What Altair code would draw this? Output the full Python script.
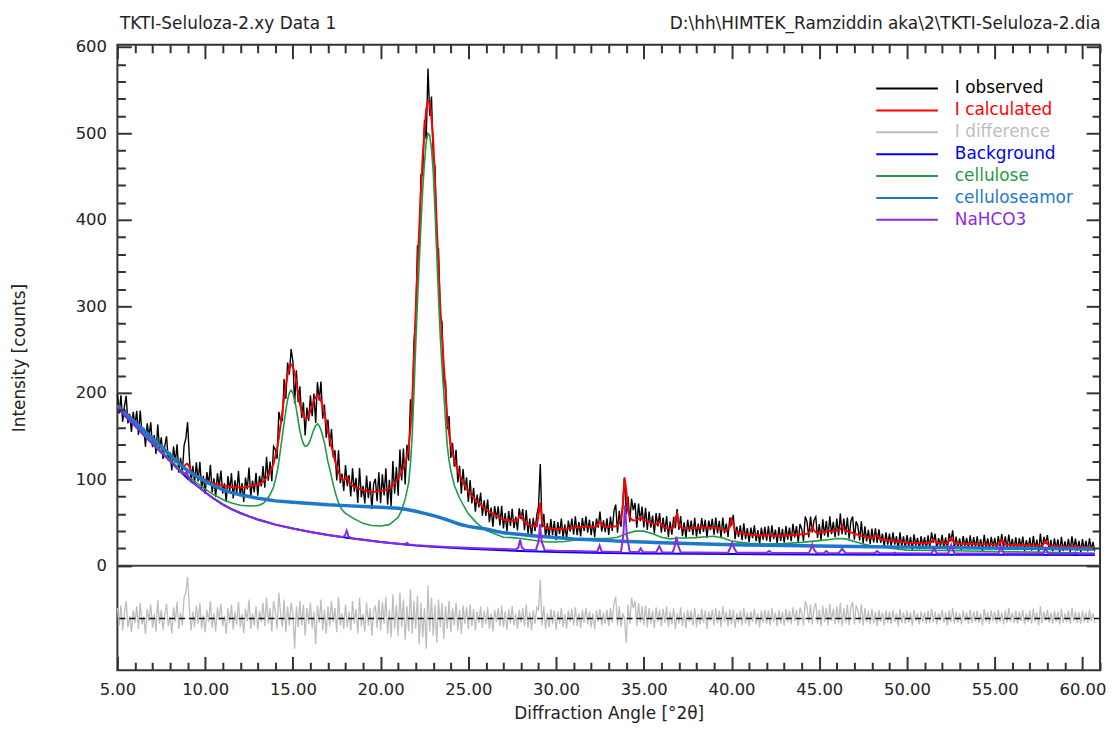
import altair as alt
import pandas as pd

# ---------------- data ----------------
ANGLE_START = 5.0   # first sampled angle of the scan (deg 2theta)
ANGLE_STEP = 0.1    # scan step

# I calculated, one row per degree (x.0 ... x.9)
calc_counts = [
    186, 184.1, 182.2, 180.3, 178.4, 176.5, 174.6, 172.7, 170.8, 168.9,
    167, 165.1, 163.2, 161.3, 159.4, 157.5, 155.6, 153.7, 151.8, 149.9,
    148, 146.1, 144.2, 142.3, 140.4, 138.5, 136.6, 134.7, 132.8, 130.9,
    129, 127.1, 125.2, 123.3, 121.4, 119.5, 117.8, 116.1, 114.9, 117.2,
    118, 114, 110, 107.4, 105.8, 104.5, 103.4, 102.3, 101.1, 100,
    99, 98.2, 97.4, 96.6, 95.8, 95, 94.5, 94, 93.5, 93,
    92.5, 92.2, 91.9, 91.6, 91.3, 91, 90.9, 90.8, 90.7, 90.6,
    90.5, 90.6, 90.7, 90.9, 91.2, 91.5, 91.9, 92.4, 92.9, 93.4,
    94, 94.8, 95.8, 97.2, 99.2, 102, 104.3, 108.5, 112.8, 118,
    126.5, 135.6, 148, 163, 178, 194, 209, 221, 229, 232.5,
    230.5, 222.5, 212, 199, 187.5, 179, 173, 170.5, 171, 173.5,
    179, 185, 191, 195, 197.5, 196, 191, 184, 176.5, 166,
    155, 147, 138, 129.5, 121.5, 114.5, 108.5, 103.5, 100.5, 98.5,
    100.5, 102.1, 96.9, 94.1, 92.7, 91.6, 90.6, 89.7, 88.9, 88.1,
    87.4, 86.9, 86.4, 86, 85.7, 85.5, 85.4, 85.5, 85.7, 86,
    86.3, 86.7, 87.2, 87.8, 88.5, 89.5, 91, 93, 95.3, 98,
    101, 104.5, 108.5, 113.5, 119, 126, 136.5, 158.5, 190, 240,
    294.5, 344.5, 389.5, 434, 473.5, 503.5, 528, 537, 535, 518.5,
    491, 445.5, 395, 344.5, 299, 263.7, 233, 200.5, 170, 153,
    140.7, 130, 122.5, 116, 110.3, 105.7, 101.3, 96.9, 93, 89.2,
    85.8, 83.2, 81, 79, 76.4, 74.3, 72.5, 70.7, 68.9, 66.5,
    64.7, 63.5, 62.3, 61.2, 60.1, 59, 57.8, 56.6, 55.5, 54.3,
    53.1, 52.8, 52.5, 52.2, 51.9, 51.7, 51.5, 51.8, 52.9, 56.3,
    58.9, 53.4, 50.1, 48.4, 47.9, 47.4, 46.9, 46.4, 46, 45.5,
    59, 72.6, 52.2, 45.9, 44, 43.2, 43, 42.8, 42.6, 42.5,
    42.5, 42.5, 42.5, 42.5, 42.6, 42.7, 42.9, 43.1, 43.3, 43.6,
    43.9, 44.1, 44.3, 44.6, 44.8, 45, 45.1, 45.1, 45.2, 45.2,
    45.2, 45.2, 45.1, 45.6, 48, 51.5, 47.5, 45.5, 44.8, 44.7,
    44.7, 44.9, 45.1, 45.4, 45.7, 46.3, 49.4, 55, 67, 102,
    87.5, 64, 56.4, 53.5, 52.4, 52.5, 53, 54, 56.4, 54.4,
    52.3, 52, 51.4, 50.7, 49.9, 49, 48.2, 47.8, 49.5, 51,
    47.2, 44.8, 44, 43.5, 43.2, 43, 42.9, 44.5, 55.5, 59.5,
    47.5, 44.5, 43.3, 43.2, 43.2, 43.2, 43.2, 43.3, 43.4, 43.5,
    43.7, 43.8, 43.9, 44, 44.1, 44.2, 44.2, 44.2, 44.2, 44.1,
    44, 43.8, 43.5, 43, 42.4, 41.7, 41.3, 40.8, 42.3, 44.8,
    53.3, 48.8, 41.7, 39.1, 38.2, 37.8, 37.4, 37, 36.7, 36.4,
    36.2, 36, 35.8, 35.6, 35.4, 35.3, 35.2, 35.1, 35, 35,
    34.9, 36.8, 35.5, 34.8, 34.7, 34.7, 34.7, 34.7, 34.7, 34.7,
    34.7, 34.8, 35, 35.2, 35.3, 35.5, 35.7, 35.8, 36, 36.2,
    36.4, 36.6, 36.8, 37, 37.6, 40.8, 45.5, 40.7, 38.7, 38.1,
    38.2, 38.4, 38.6, 38.8, 39.5, 41.1, 40.2, 39.6, 39.8, 40,
    40.6, 40.7, 42.4, 45.4, 42.5, 40.5, 39.8, 39.2, 38.5, 37.8,
    37, 36.4, 35.8, 35.2, 34.5, 33.9, 33.5, 33, 32.6, 32.2,
    31.8, 33, 35.2, 35.4, 32.1, 30.5, 30.2, 29.9, 29.6, 29.4,
    29.2, 28.9, 28.6, 28.4, 28.1, 27.9, 27.6, 27.3, 27, 26.8,
    26.5, 26.5, 26.4, 26.4, 26.3, 26.3, 26.2, 26.2, 26.1, 26.1,
    26.1, 26, 26, 26.3, 27.5, 30.5, 29, 26.8, 26, 25.9,
    25.7, 25.7, 25.7, 26.5, 28.5, 32.3, 28.8, 26.3, 25.6, 25.5,
    25.5, 25.4, 25.3, 25.3, 25.2, 25.2, 25.1, 25, 25, 24.9,
    24.9, 24.8, 24.8, 24.7, 24.7, 24.6, 24.5, 24.5, 24.4, 24.4,
    24.2, 24.2, 24.4, 26.2, 29.6, 27.6, 25, 24.3, 24.1, 24.1,
    24, 24, 23.9, 23.9, 23.8, 23.8, 23.7, 23.7, 23.6, 23.6,
    23.5, 23.5, 23.4, 23.4, 23.3, 23.3, 23.2, 23.7, 25.5, 28.6,
    25.3, 23.4, 22.8, 22.7, 22.6, 22.5, 22.4, 22.4, 22.3, 22.2,
    22.2, 22.1, 22, 22, 21.9, 22.5, 23.4, 22.4, 21.8, 21.8,
    21.7, 21.7, 21.6, 21.6, 21.6, 21.5, 21.5, 21.5,
]

# I difference (observed - calculated), read around its own zero line
diff_counts = [
    12, -8, 15, -14, 6, 20, -10, 3, -16, 9,
    -5, 14, -12, 18, -7, 2, -18, 11, -3, 16,
    -11, 5, -15, 21, -6, 10, -13, 4, 17, -9,
    2, -17, 13, -4, 19, -12, 7, -8, 24, 30,
    48, 12, -14, 8, -10, 15, -6, 18, -12, 4,
    -16, 10, -4, 20, -11, 6, -15, 13, -2, 17,
    -9, 3, -18, 12, -5, 16, -13, 8, -7, 19,
    -10, 5, -17, 11, -3, 22, -12, 6, -8, 14,
    -13, 9, -4, 18, -9, 24, -6, 12, -15, 20,
    8, -12, 30, 5, -10, 22, -16, 14, -8, 18,
    6, -35, 14, -10, 20, -8, 16, -20, 12, -6,
    18, -12, 8, -30, 15, -5, 22, -14, 10, -18,
    14, -9, 20, -4, 12, -16, 25, -8, 6, -12,
    16, -10, 8, -14, 20, -6, 11, -17, 24, -9,
    5, -15, 18, -8, 12, -20, 9, 15, -11, 22,
    -14, 19, -6, 25, -18, 10, -22, 28, -12, 16,
    -20, 30, -10, 22, -25, 14, -15, 34, -18, 20,
    -12, 26, -30, 18, -22, 12, -35, 38, -15, 24,
    -20, 16, -28, 22, -10, 18, -24, 14, -12, 20,
    -16, 12, -8, 18, -14, 10, -18, 15, -6, 13,
    -12, 16, -9, 11, -14, 8, -5, 14, -11, 9,
    -7, 13, -12, 6, -15, 10, -4, 12, -9, 15,
    -10, 8, -13, 11, -6, 14, -8, 5, -12, 10,
    -5, 12, -9, 16, -11, 7, -14, 9, -6, 13,
    10, 45, -8, 14, -12, 6, -10, 11, -7, 9,
    -13, 8, -6, 12, -10, 5, -12, 9, -4, 11,
    -8, 13, -9, 6, -11, 10, -5, 12, -7, 8,
    -10, 6, -12, 9, -4, 11, -8, 7, -6, 10,
    -9, 12, -5, 18, 25, -8, 14, -10, 6, 0,
    -28, 16, -6, 24, 12, 20, -9, 18, -5, 14,
    -8, 15, -10, 12, -6, 9, -11, 13, -4, 10,
    -9, 11, -5, 14, -10, 8, -7, 12, -12, 6,
    -6, 13, -9, 7, -11, 10, -4, 9, -8, 12,
    -10, 5, -7, 11, -5, 9, -12, 8, -3, 10,
    -8, 12, -6, 9, -10, 14, -4, 8, -9, 11,
    -7, 10, -11, 6, -5, 9, -8, 12, -6, 7,
    -9, 8, -4, 11, -7, 6, -10, 9, -5, 10,
    -6, 9, -8, 12, -4, 7, -9, 10, -6, 8,
    -8, 11, -5, 9, -7, 13, -3, 10, -9, 12,
    6, -8, 20, 14, -5, 16, -7, 12, 18, -6,
    10, -9, 15, -4, 12, -8, 17, -3, 11, -7,
    14, -6, 18, -9, 12, -5, 16, -8, 13, 19,
    -7, 15, 10, -6, 17, -8, 12, -5, 9, -7,
    11, -6, 8, -9, 10, -4, 7, -8, 9, -5,
    8, -7, 10, -4, 6, -9, 11, -5, 7, -6,
    9, -5, 7, -8, 10, -3, 6, -7, 8, -4,
    7, -6, 9, -5, 11, -4, 8, -7, 6, -3,
    10, -5, 7, -8, 9, -4, 12, -6, 8, -5,
    6, -7, 9, -3, 7, -6, 10, -5, 8, -4,
    9, -5, 6, -8, 11, -4, 7, -6, 9, -3,
    8, -6, 10, -4, 7, -7, 9, -5, 12, -4,
    7, -5, 9, -6, 8, -3, 10, -7, 6, -4,
    9, -6, 11, -4, 7, -8, 14, -5, 8, -3,
    10, -5, 7, -6, 9, -4, 8, -7, 11, -5,
    6, -4, 9, -6, 12, -3, 8, -5, 7, -6,
    9, -4, 7, -5, 10, -3, 6, -5,
]
DIFF_OFFSET = -61  # where the difference curve's zero sits

bg_angle = [5.0, 5.5, 6.0, 6.5, 7.0, 7.5, 8.0, 8.5, 9.0, 9.5, 10.0, 10.5, 11.0, 11.5,
            12.0, 12.5, 13.0, 13.5, 14.0, 15.0, 16.0, 17.0, 18.0, 19.0, 20.0, 21.0,
            22.0, 23.0, 24.0, 25.0, 26.0, 27.0, 28.0, 29.0, 30.0, 32.0, 35.0, 40.0,
            45.0, 50.0, 55.0, 60.7]
bg_counts = [183, 172, 162, 151, 141, 131, 121, 110.5, 101, 93, 85, 77.5, 71, 65.5,
             61, 57, 53.5, 50.5, 47.5, 43, 39, 35.5, 32.5, 30, 27.5, 25.5,
             23.5, 22, 20.8, 19.7, 18.8, 17.9, 17.1, 16.5, 15.8, 15, 14.2, 13.5,
             13, 12.8, 12.6, 12.4]

cel_angle = [5.0, 5.5, 6.0, 6.5, 7.0, 7.5, 8.0, 8.5, 9.0, 9.5, 10.0, 10.5, 11.0, 11.5,
             12.0, 12.5, 13.0, 13.3, 13.5, 13.7, 13.9,
             14.0, 14.1, 14.2, 14.3, 14.4, 14.5, 14.6, 14.7, 14.8, 14.9,
             15.0, 15.1, 15.2, 15.3, 15.4, 15.5, 15.6, 15.7, 15.8, 15.9,
             16.0, 16.1, 16.2, 16.3, 16.4, 16.5, 16.6, 16.7, 16.8, 16.9,
             17.0, 17.1, 17.2, 17.3, 17.4, 17.5, 17.6, 17.7, 17.8, 17.9, 18.0,
             18.5, 19.0, 19.5, 20.0, 20.5, 21.0, 21.2, 21.4, 21.6,
             21.7, 21.8, 21.9, 22.0, 22.1, 22.2, 22.3, 22.4, 22.5, 22.6, 22.7, 22.8, 22.9,
             23.0, 23.1, 23.2, 23.3, 23.4, 23.5, 23.6, 23.7, 23.8, 23.9, 24.0,
             24.2, 24.5, 25.0, 25.5, 26.0, 26.5, 27.0, 27.5, 28.0, 28.5, 29.0, 29.5,
             30.0, 30.5, 31.0, 31.5, 32.0, 32.5, 33.0, 33.5, 34.0, 34.5,
             35.0, 35.5, 36.0, 36.5, 37.0, 37.5, 38.0, 38.5, 39.0, 39.5, 40.0,
             40.5, 41.0, 42.0, 43.0, 44.0, 45.0, 45.5, 46.0, 46.5, 47.0, 47.5, 48.0,
             48.75, 50.0, 52.0, 55.0, 58.0, 60.7]
cel_counts = [184, 174, 164, 153, 143, 133, 123, 113, 104, 96, 88.5, 82, 76.5, 72.5,
              70, 69, 69.5, 72, 76, 82, 91,
              99, 108, 120, 135, 150, 165, 180, 192, 200, 203,
              200, 192, 181, 168, 156, 147, 141, 138, 138.5, 141,
              146, 152, 158, 162, 164, 162, 157, 150, 142, 131,
              120, 112, 103, 94, 86, 79, 73, 68, 65, 62.5, 60.5,
              54.2, 49, 46.5, 46, 47.5, 56, 64, 77, 96,
              118, 150, 200, 255, 305, 350, 395, 435, 466, 490, 500, 498, 482,
              455, 410, 360, 310, 265, 230, 200, 168, 138, 122, 110,
              93, 78, 60, 49, 41, 37, 33, 32.5, 31.5, 30, 28.5, 27.5,
              27.5, 28, 29.5, 31, 31.5, 31.5, 31.5, 33, 37, 40,
              40, 37, 33, 31, 32, 32, 32.5, 33.5, 34, 32, 28.5,
              27, 26, 25, 25.5, 27, 29, 30, 31.5, 31, 28, 25, 23,
              21, 18, 17.5, 16.5, 15.5, 14.5]

amor_angle = [5.0, 5.5, 6.0, 6.5, 7.0, 7.5, 8.0, 8.5, 9.0, 9.5, 10.0, 10.5, 11.0, 11.5,
              12.0, 12.5, 13.0, 13.5, 14.0, 15.0, 16.0, 17.0, 18.0, 19.0, 20.0, 21.0,
              21.5, 22.0, 22.5, 23.0, 23.5, 24.0, 24.5, 25.0, 25.5, 26.0,
              27.0, 28.0, 29.0, 30.0, 31.0, 32.0, 33.0, 34.0, 35.0, 36.0,
              38.0, 40.0, 42.0, 44.0, 46.0, 48.0, 50.0, 52.0, 54.0, 56.0, 58.0, 60.7]
amor_counts = [185, 175.5, 166, 156.5, 147, 137.5, 128, 118.5, 110, 103.5, 97.5, 92.5, 88, 84.5,
               82, 80, 78, 76.5, 75, 73.5, 72, 70.5, 69.5, 68.5, 67.5, 66.5,
               65, 63, 60.5, 58, 55, 51.5, 48, 45.5, 44, 42.5,
               38, 36, 34, 32.5, 31, 30, 29, 28, 27.3, 26.5,
               25.3, 24.3, 23.6, 23, 22.5, 22, 21.5, 21, 20.6, 20.2, 19.8, 19.3]

nah_angle = [5.0, 5.5, 6.0, 6.5, 7.0, 7.5, 8.0, 8.5, 8.7, 8.85, 8.95, 9.05, 9.2, 9.5,
             10.0, 10.5, 11.0, 11.5, 12.0, 12.5, 13.0, 13.5, 14.0, 15.0, 16.0, 17.0,
             17.85, 17.98, 18.07, 18.17, 18.35, 19.0, 20.0, 21.0, 21.4, 21.5, 21.6,
             22.0, 23.0, 24.0, 25.0, 26.0, 27.0, 27.7, 27.85, 27.95, 28.05, 28.2,
             28.85, 29.0, 29.08, 29.18, 29.35, 30.0, 31.0, 32.0, 32.35, 32.48, 32.6,
             33.0, 33.7, 33.83, 33.93, 34.03, 34.2, 34.7, 34.82, 34.95, 35.7, 35.88,
             36.05, 36.65, 36.78, 36.86, 36.95, 37.1, 38.0, 39.8, 39.93, 40.03, 40.13,
             40.3, 42.0, 42.14, 42.3, 44.4, 44.5, 44.6, 44.7, 44.85, 45.25, 45.4,
             45.55, 46.1, 46.3, 46.5, 48.15, 48.3, 48.45, 49.2, 49.3, 49.4, 51.4,
             51.54, 51.7, 52.35, 52.52, 52.7, 55.2, 55.36, 55.52, 57.75, 57.9, 58.05,
             59.5, 59.6, 59.7, 60.7]
nah_counts = [183, 172, 162, 151, 141, 131, 121, 110.5, 106.7, 106.5, 109, 102.5, 97.4, 93,
              85, 77.5, 71, 65.5, 61, 57, 53.5, 50.5, 47.5, 43, 39, 35.5,
              33, 35.5, 40.5, 34, 31.6, 30, 27.5, 25.5, 24.7, 26.5, 24.5,
              23.8, 22.5, 21.5, 20.7, 20, 19.2, 18.7, 21, 30, 21, 18.5,
              18, 28, 48, 28, 18, 17.3, 16.9, 16.5, 16.4, 23.5, 16.3,
              16.2, 16, 35, 70, 35, 15.9, 15.8, 20, 15.8, 15.6, 22.5,
              15.5, 15.4, 24, 33.5, 24, 15.4, 15.3, 15, 21, 26.5, 21,
              15, 14.9, 17, 14.9, 14.6, 18.5, 24.5, 18.5, 14.6, 14.5, 17,
              14.5, 14.5, 19.5, 14.5, 14.4, 17, 14.4, 14.3, 15.2, 14.3, 14.2,
              20, 14.2, 14.2, 24, 14.2, 14.1, 22, 14.1, 14, 20, 14,
              13.9, 15.5, 13.9, 13.9]

series_names = ["I observed", "I calculated", "I difference", "Background",
                "cellulose", "celluloseamor", "NaHCO3"]
series_colors = ["#000000", "#ff0000", "#bdbdbd", "#0000ff",
                 "#1f9a45", "#1c78cc", "#8a2be2"]

x_tick_values = list(range(5, 62))
y_tick_values = list(range(0, 601, 20))
title_left = "TKTI-Seluloza-2.xy Data 1"
title_right = "D:\\hh\\HIMTEK_Ramziddin aka\\2\\TKTI-Seluloza-2.dia"

# ---------------- tables ----------------
angles = [round(ANGLE_START + ANGLE_STEP * i, 1) for i in range(len(calc_counts))]
obs_df = pd.DataFrame({"angle": angles,
                       "counts": [c + d for c, d in zip(calc_counts, diff_counts)],
                       "series": "I observed"})
calc_df = pd.DataFrame({"angle": angles, "counts": calc_counts, "series": "I calculated"})
diff_df = pd.DataFrame({"angle": angles,
                        "counts": [d + DIFF_OFFSET for d in diff_counts],
                        "series": "I difference"})
bg_df = pd.DataFrame({"angle": bg_angle, "counts": bg_counts, "series": "Background"})
cel_df = pd.DataFrame({"angle": cel_angle, "counts": cel_counts, "series": "cellulose"})
amor_df = pd.DataFrame({"angle": amor_angle, "counts": amor_counts, "series": "celluloseamor"})
nah_df = pd.DataFrame({"angle": nah_angle, "counts": nah_counts, "series": "NaHCO3"})

FONT = "DejaVu Sans"
TXT = "#222222"
TICK = "#333333"

xscale = alt.Scale(domain=[5, 61], nice=False, zero=False)
yscale = alt.Scale(domain=[-121, 602.5], nice=False, zero=False)
cscale = alt.Scale(domain=series_names, range=series_colors)

# major ticks solid (14 px), minor ticks only their outer 8 px drawn
x_dash = {"expr": "datum.value % 5 === 0 ? [14, 0] : [0, 6, 8, 100]"}
y_dash = {"expr": "datum.value % 100 === 0 ? [14, 0] : [0, 6, 8, 100]"}

common_axis = dict(offset=-14, tickSize=14, tickWidth=2, tickColor=TICK, domain=False,
                   grid=False, labelOverlap=False, labelFlush=False, zindex=1,
                   titleFont=FONT, titleFontSize=17, titleFontWeight="normal",
                   titleColor=TXT, labelFont=FONT, labelColor=TXT)

x_bottom = alt.Axis(orient="bottom", values=x_tick_values, tickDash=x_dash,
                    labelExpr="datum.value % 5 === 0 ? format(datum.value, '.2f') : ''",
                    labelFontSize=16.5, labelPadding=11,
                    title="Diffraction Angle [°2θ]", titleY=57, titleBaseline="middle",
                    **common_axis)
x_top = alt.Axis(orient="top", values=x_tick_values, tickDash=x_dash, labels=False,
                 title=title_left, titleX=2, titleY=-30, titleAlign="left",
                 titleAnchor="start", titleBaseline="alphabetic", titleAngle=0,
                 **common_axis)
y_left = alt.Axis(orient="left", values=y_tick_values, tickDash=y_dash,
                  labelExpr="datum.value % 100 === 0 ? format(datum.value, 'd') : ''",
                  labelFontSize=16.5, labelPadding=11,
                  title="Intensity [counts]", titleX=-112, titleBaseline="middle",
                  **common_axis)
y_right = alt.Axis(orient="right", values=y_tick_values, tickDash=y_dash, labels=False,
                   title=title_right, titleAngle=0, titleX=14, titleY=-16,
                   titleAlign="right", titleBaseline="alphabetic",
                   **common_axis)

legend = alt.Legend(title=None, orient="none", legendX=762, legendY=33,
                    direction="vertical", symbolType="stroke", symbolSize=3844,
                    symbolStrokeWidth=2, clipHeight=22, rowPadding=0, labelOffset=16,
                    labelFont=FONT, labelFontSize=17, labelLimit=400, padding=0,
                    labelColor={"expr": "scale('color', datum.value)"})


def line_layer(df, width, xaxis=None, yaxis=None):
    return alt.Chart(df).mark_line(strokeWidth=width, interpolate="linear").encode(
        x=alt.X("angle:Q", scale=xscale, axis=xaxis),
        y=alt.Y("counts:Q", scale=yscale, axis=yaxis),
        color=alt.Color("series:N", scale=cscale, legend=legend),
    )


obs = line_layer(obs_df, 1.4, x_bottom, y_left)
calc = line_layer(calc_df, 2, x_top, y_right)
diff = line_layer(diff_df, 1.3)
bg = line_layer(bg_df, 2)
cel = line_layer(cel_df, 1.6)
amor = line_layer(amor_df, 3.5)
nah = line_layer(nah_df, 2)

zero_line = alt.Chart(pd.DataFrame({"counts": [0]})).mark_rule(
    color="#444444", strokeWidth=2).encode(y=alt.Y("counts:Q", scale=yscale, axis=None))
diff_zero = alt.Chart(pd.DataFrame({"counts": [DIFF_OFFSET]})).mark_rule(
    color="#111111", strokeWidth=1.5, strokeDash=[6, 4]).encode(
    y=alt.Y("counts:Q", scale=yscale, axis=None))

chart = alt.layer(obs, calc, diff, zero_line, diff_zero, bg, cel, amor, nah).resolve_axis(
    x="independent", y="independent"
).properties(
    width=988, height=629,
    padding={"left": 110, "top": 35, "right": 6, "bottom": 51},
    autosize=alt.AutoSizeParams(type="none"),
    background="white",
).configure_view(stroke="#333333", strokeWidth=2)

chart.save("out.html", embed_options={"renderer": "svg", "actions": False})
